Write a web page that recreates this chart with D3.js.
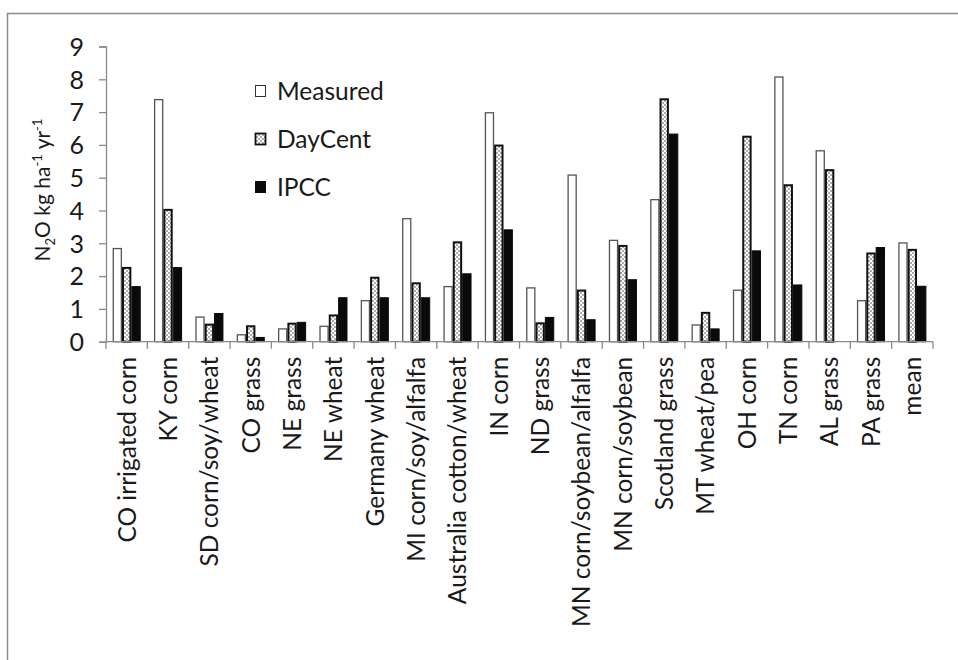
<!DOCTYPE html>
<html><head><meta charset="utf-8">
<script src="https://cdn.jsdelivr.net/npm/d3@7"></script>
<style>body{margin:0;background:#fff}svg{display:block}text{font-family:Lato,"Open Sans",sans-serif;fill:#1a1a1a}</style>
</head><body><svg id="c" width="958" height="660"></svg>
<script>
const categories = ["CO irrigated corn","KY corn","SD corn/soy/wheat","CO grass","NE grass","NE wheat","Germany wheat","MI corn/soy/alfalfa","Australia cotton/wheat","IN corn","ND grass","MN corn/soybean/alfalfa","MN corn/soybean","Scotland grass","MT wheat/pea","OH corn","TN corn","AL grass","PA grass","mean"];
const seriesNames = ["Measured","DayCent","IPCC"];
const measured = [2.84,7.38,0.75,0.21,0.39,0.47,1.25,3.75,1.68,6.98,1.64,5.08,3.09,4.33,0.51,1.57,8.07,5.82,1.25,3.01];
const daycent  = [2.25,4.02,0.52,0.47,0.55,0.80,1.95,1.78,3.03,5.98,0.56,1.56,2.92,7.39,0.88,6.25,4.77,5.23,2.69,2.80];
const ipcc     = [1.68,2.26,0.86,0.13,0.59,1.34,1.34,1.34,2.07,3.41,0.74,0.67,1.89,6.33,0.39,2.77,1.73,0,2.87,1.69];
const yTicks = [0,1,2,3,4,5,6,7,8,9];

const svg = d3.select("#c");
const defs = svg.append("defs");
const pat = defs.append("pattern").attr("id","dots").attr("patternUnits","userSpaceOnUse").attr("width",4).attr("height",4);
pat.append("rect").attr("width",4).attr("height",4).attr("fill","#fff");
pat.append("circle").attr("cx",1).attr("cy",1).attr("r",0.8).attr("fill","#444");
pat.append("circle").attr("cx",3).attr("cy",3).attr("r",0.8).attr("fill","#444");

// frame
svg.append("path").attr("d","M7.5,660 V13.5 H958").attr("fill","none").attr("stroke","#8a8a8a").attr("stroke-width",1.5);

const pl=106, pr=933, pt=46.5, pb=341.7;
const x0 = d3.scaleBand().domain(categories).range([pl,pr]).paddingInner(0.32).paddingOuter(0.16);
const x1 = d3.scaleBand().domain(seriesNames).range([0,x0.bandwidth()]);
const y = d3.scaleLinear().domain([0,9]).range([pb,pt]);

const data = categories.map((c,i)=>({c, vals:[measured[i],daycent[i],ipcc[i]]}));
const styles = {
  Measured:{fill:"#fff",stroke:"#555",sw:1.3},
  DayCent:{fill:"url(#dots)",stroke:"#111",sw:2},
  IPCC:{fill:"#0a0a0a",stroke:"#0a0a0a",sw:1}
};

const g = svg.append("g");
data.forEach(d=>{
  seriesNames.forEach((s,k)=>{
    const v=d.vals[k]; if(!v) return;
    const st=styles[s];
    g.append("rect")
      .attr("x",x0(d.c)+x1(s)+st.sw/2)
      .attr("y",y(v))
      .attr("width",x1.bandwidth()-st.sw)
      .attr("height",y(0)-y(v))
      .attr("fill",st.fill).attr("stroke",st.stroke).attr("stroke-width",st.sw);
  });
});

// y axis
const ya = svg.append("g").attr("transform",`translate(${pl},0)`)
  .call(d3.axisLeft(y).tickValues(yTicks).tickSize(7).tickPadding(15).tickFormat(d3.format("d")));
ya.select(".domain").attr("stroke","#8a8a8a").attr("stroke-width",1.3);
ya.selectAll(".tick line").attr("stroke","#8a8a8a").attr("stroke-width",1.3);
ya.selectAll(".tick text").style("font-size","25px").attr("dy","0.35em").attr("font-family",null);

// x axis
const xa = svg.append("g").attr("transform",`translate(0,${pb})`);
xa.append("line").attr("x1",pl).attr("x2",pr).attr("stroke","#8a8a8a").attr("stroke-width",1.3);
const bounds = categories.map(c=>x0(c)-x0.step()*x0.paddingInner()/2).concat([pr]);
xa.selectAll("line.t").data(bounds).enter().append("line").attr("class","t")
  .attr("x1",d=>d).attr("x2",d=>d).attr("y1",0).attr("y2",7).attr("stroke","#8a8a8a").attr("stroke-width",1.3);
xa.selectAll("text").data(categories).enter().append("text")
  .attr("transform",d=>`translate(${x0(d)+x0.bandwidth()/2},15) rotate(-90)`)
  .attr("text-anchor","end").attr("dy","0.36em").style("font-size","24.5px").text(d=>d);

// y title
const yt = svg.append("text").attr("transform","translate(50,190) rotate(-90)").attr("text-anchor","middle").style("font-size","21px");
yt.append("tspan").text("N");
yt.append("tspan").attr("dy",5).style("font-size","13px").text("2");
yt.append("tspan").attr("dy",-5).text("O kg ha");
yt.append("tspan").attr("dy",-8).style("font-size","13px").text("-1");
yt.append("tspan").attr("dy",8).text(" yr");
yt.append("tspan").attr("dy",-8).style("font-size","13px").text("-1");

// legend
const lg = svg.append("g");
seriesNames.forEach((s,i)=>{
  const st=styles[s];
  const yy = 91 + i*48;
  lg.append("rect").attr("x",255.5).attr("y",yy-5.5).attr("width",10).attr("height",11)
    .attr("fill",st.fill).attr("stroke",s==="Measured"?"#333":st.stroke).attr("stroke-width",s==="DayCent"?1.8:1);
  lg.append("text").attr("x",277).attr("y",yy).attr("dy","0.36em").style("font-size","24.5px").text(s);
});
</script></body></html>
